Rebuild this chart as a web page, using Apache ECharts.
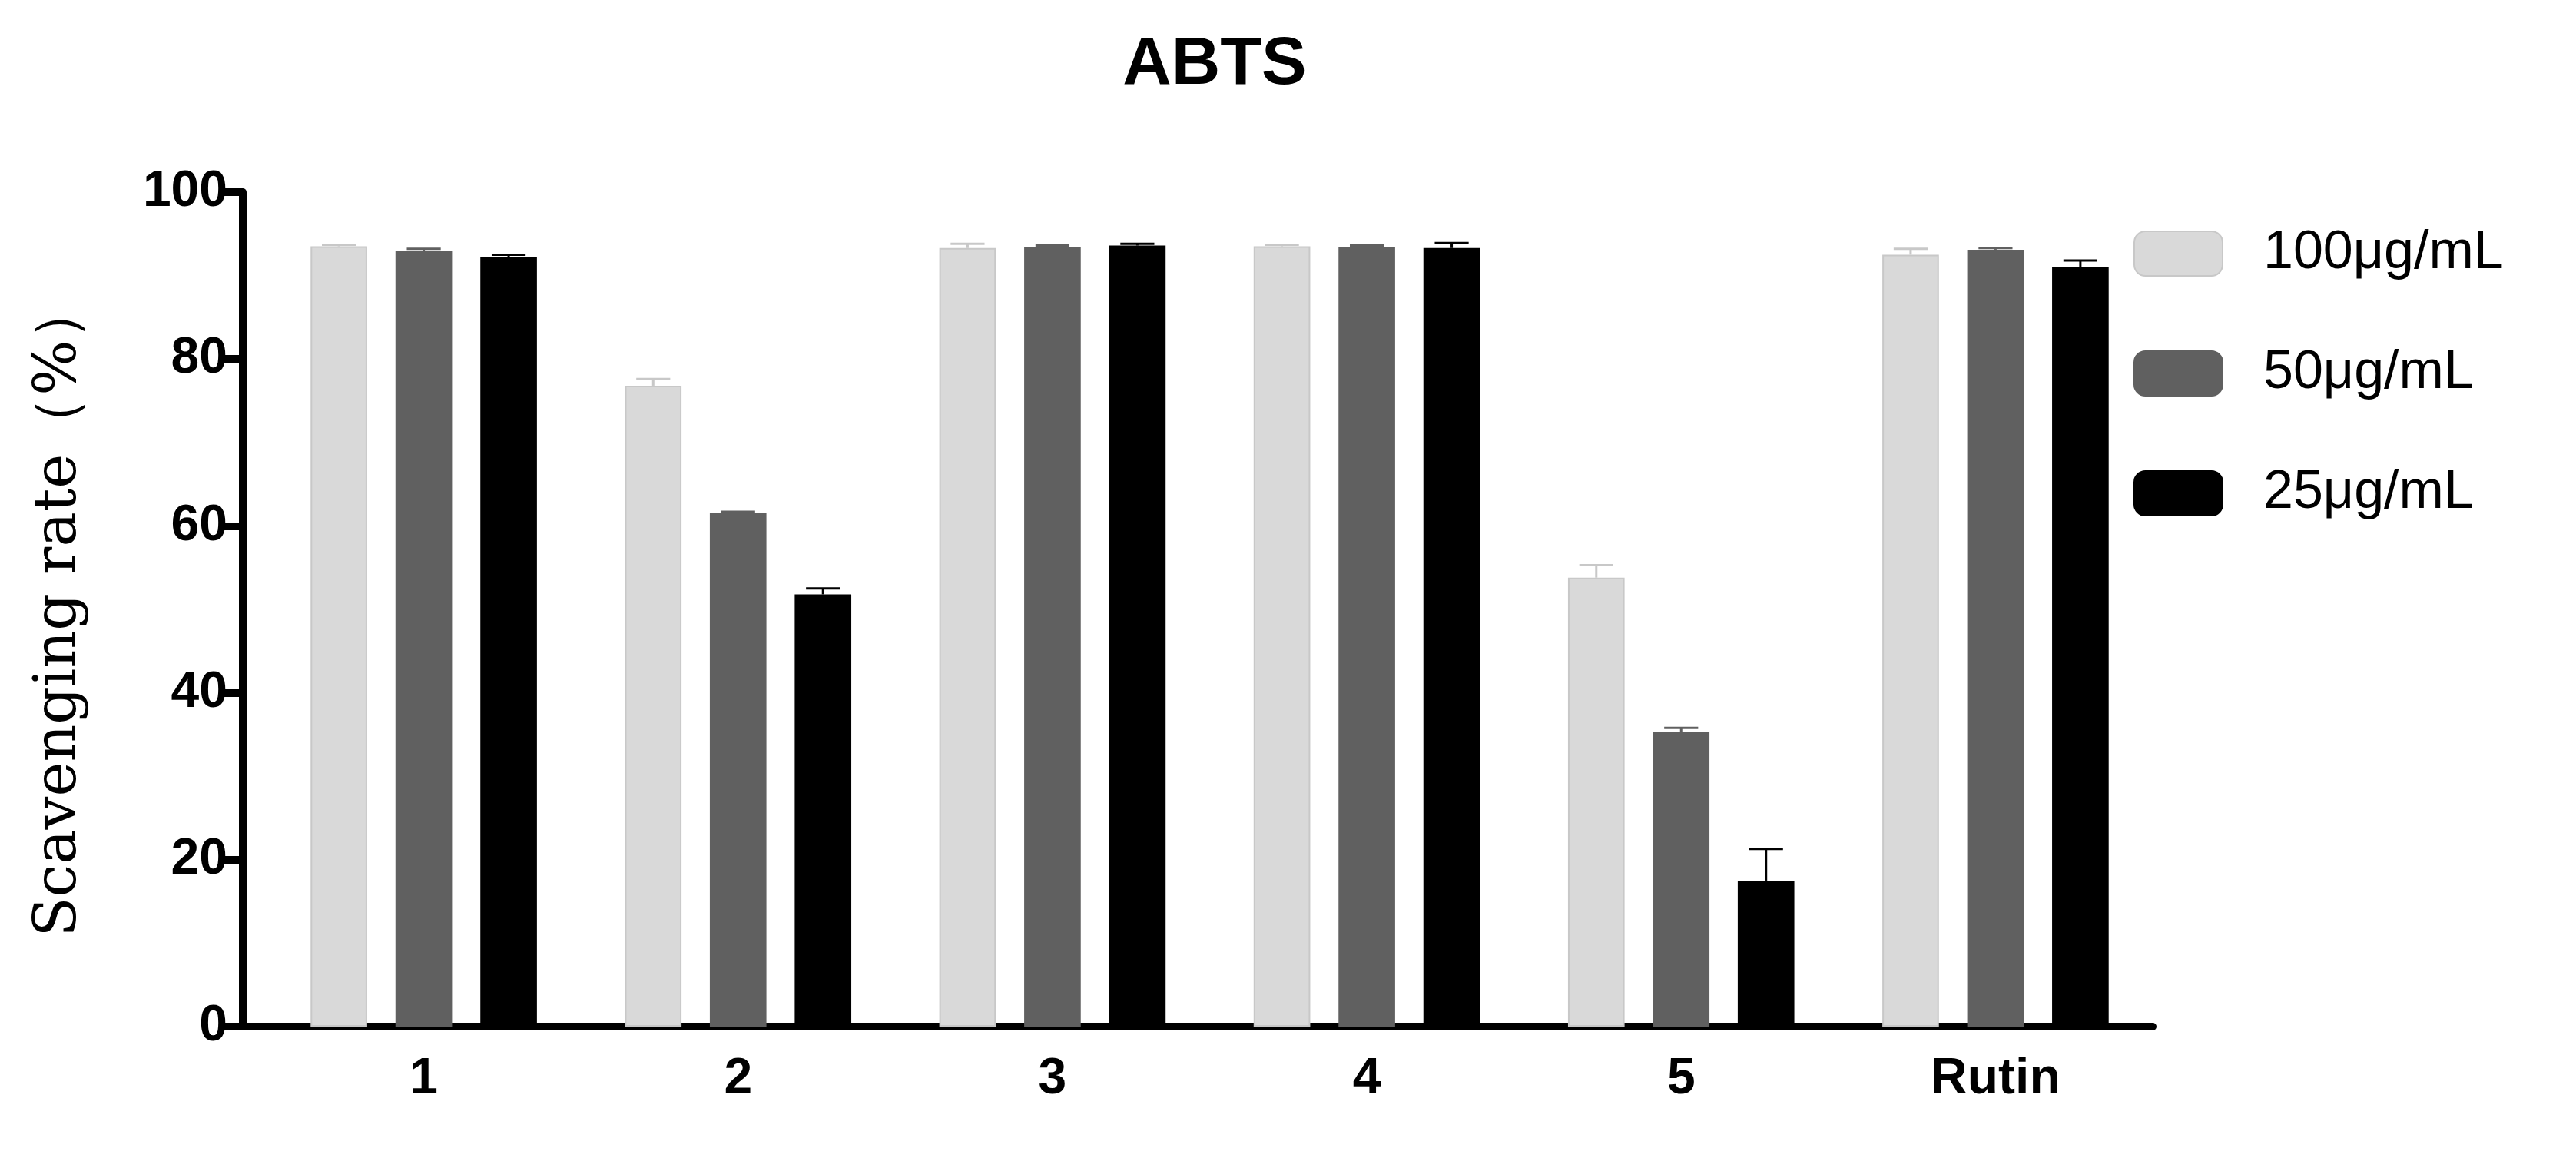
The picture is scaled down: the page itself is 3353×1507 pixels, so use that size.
<!DOCTYPE html>
<html style="height: 100%">
<head>
<meta charset="utf-8">
<script src="https://cdn.jsdelivr.net/npm/echarts@6/dist/echarts.min.js"></script>
</head>
<body style="height: 100%; width: 100%; margin: 0; background: #fff">
<div id="container" style="height: 100%; width: 100%;"></div>
<script type="text/javascript">
var categories = ['1', '2', '3', '4', '5', 'Rutin'];
var seriesNames = ['100μg/mL', '50μg/mL', '25μg/mL'];
var colors = ['#d9d9d9', '#606060', '#000000'];
var values100 = [93.5, 76.8, 93.3, 93.5, 53.8, 92.5];
var values50 = [93.0, 61.5, 93.4, 93.4, 35.3, 93.1];
var values25 = [92.2, 51.8, 93.6, 93.3, 17.5, 91.0];
var err100 = [0.2, 0.8, 0.5, 0.2, 1.5, 0.7];
var err50 = [0.2, 0.2, 0.2, 0.2, 0.5, 0.2];
var err25 = [0.3, 0.7, 0.2, 0.6, 3.8, 0.8];

var allValues = [values100, values50, values25];
var allErr = [err100, err50, err25];
var barFrac = 0.18, gapFrac = 0.5;

var dom = document.getElementById('container');
var myChart = echarts.init(dom);

var series = [];
for (var s = 0; s < 3; s++) {
	series.push({
		name: seriesNames[s],
		type: 'bar',
		barWidth: (barFrac * 100) + '%',
		barGap: (gapFrac * 100) + '%',
		itemStyle: { color: colors[s], borderColor: s === 0 ? '#c8c8c8' : colors[s], borderWidth: 2 },
		data: allValues[s]
	});
}
for (var s = 0; s < 3; s++) {
	(function (k) {
		series.push({
			type: 'custom',
			name: seriesNames[k] + ' err',
			z: 1,
			data: allValues[k].map(function (v, i) { return [i, v, v + allErr[k][i]]; }),
			renderItem: function (params, api) {
				var band = api.size([1, 0])[0];
				var w = band * barFrac;
				var off = (k - 1) * w * (1 + gapFrac);
				var top = api.coord([api.value(0), api.value(2)]);
				var base = api.coord([api.value(0), api.value(1)]);
				var x = top[0] + off;
				var c = k === 0 ? '#c8c8c8' : colors[k];
				return {
					type: 'group',
					children: [
						{ type: 'line', shape: { x1: x, y1: base[1], x2: x, y2: top[1] }, style: { stroke: c, lineWidth: 3 } },
						{ type: 'line', shape: { x1: x - w * 0.3, y1: top[1], x2: x + w * 0.3, y2: top[1] }, style: { stroke: c, lineWidth: 3 } }
					]
				};
			},
			tooltip: { show: false }
		});
	})(s);
}

var option = {
	backgroundColor: '#fff',
	animation: false,
	title: {
		text: 'ABTS', left: 1576, top: 36, textAlign: 'center',
		textStyle: { fontSize: 88, fontWeight: 'bold', color: '#000', fontFamily: 'Liberation Sans, Arial' }
	},
	legend: {
		data: seriesNames, orient: 'vertical', left: 2772, top: 290,
		itemWidth: 115, itemHeight: 58, itemGap: 86,
		itemStyle: { borderRadius: 0 },
		textStyle: { fontSize: 70, color: '#000', fontFamily: 'Liberation Sans, Arial', padding: [0, 0, 0, 48] }
	},
	graphic: [{
		type: 'line', shape: { x1: 312, y1: 1336, x2: 350, y2: 1336 },
		style: { stroke: '#000', lineWidth: 10 }
	}],
	grid: { left: 347, right: 3353 - 2802, top: 250, bottom: 1507 - 1336 },
	xAxis: {
		type: 'category', data: categories,
		axisLine: { lineStyle: { color: '#000', width: 10 } },
		axisTick: { alignWithLabel: true, length: 26, lineStyle: { width: 10, color: '#000' } },
		axisLabel: { fontSize: 66, fontWeight: 'bold', color: '#000', margin: 36, fontFamily: 'Liberation Sans, Arial' }
	},
	yAxis: {
		type: 'value', min: 0, max: 100, interval: 20, offset: 31,
		name: 'Scavenging rate（%）', nameLocation: 'middle', nameGap: 200,
		nameTextStyle: { fontSize: 76, color: '#000', fontFamily: 'DejaVu Serif, Liberation Serif, serif' },
		splitLine: { show: false },
		axisLine: { show: true, lineStyle: { color: '#000', width: 10 } },
		axisTick: { show: true, length: 26, lineStyle: { width: 10, color: '#000' } },
		axisLabel: { fontSize: 66, fontWeight: 'bold', color: '#000', margin: 20, fontFamily: 'Liberation Sans, Arial' }
	},
	series: series
};
myChart.setOption(option);
</script>
</body>
</html>
